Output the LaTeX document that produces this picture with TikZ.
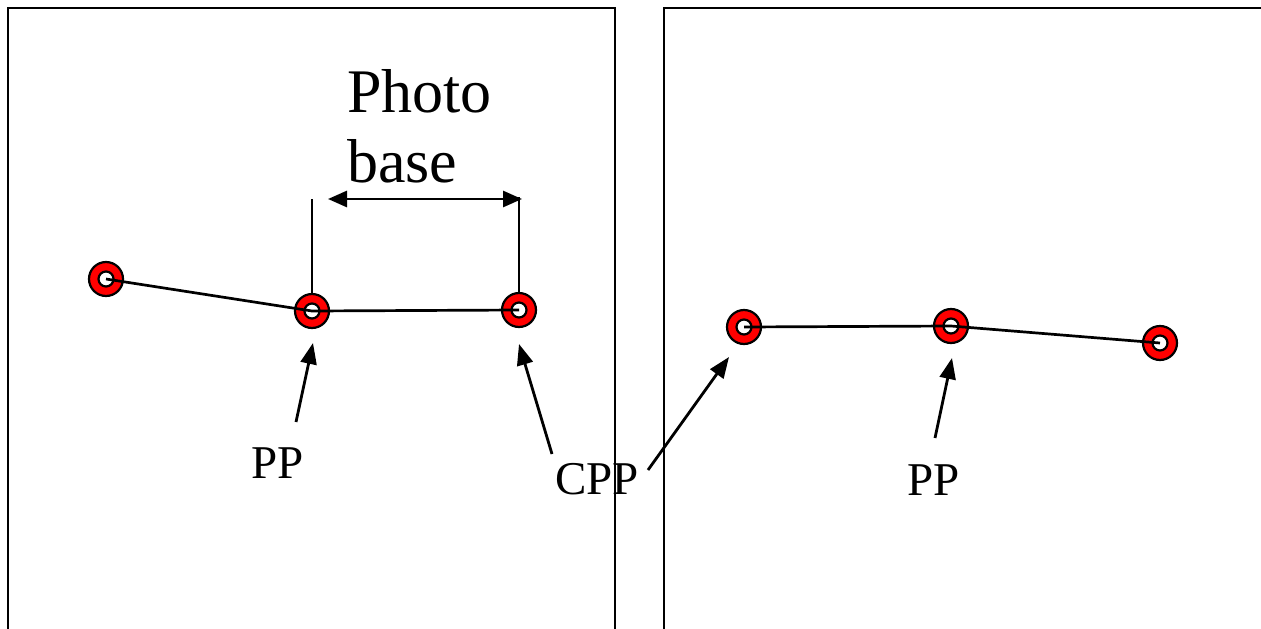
\documentclass[tikz,border=0pt]{standalone}
\usepackage{fontspec}
\setmainfont{Liberation Serif}
\usetikzlibrary{arrows.meta}
\begin{document}
\begin{tikzpicture}[x=1pt,y=-1pt,
  frame/.style={line width=2.4pt},
  ring/.style={circle,draw=black,fill=red,line width=2.2pt,minimum size=34pt,inner sep=0pt},
  hole/.style={circle,draw=black,fill=white,line width=2.2pt,minimum size=15pt,inner sep=0pt},
  link/.style={line width=2.7pt},
  ptr/.style={line width=2.8pt,-{Triangle[length=21pt,width=16pt]}},
  lbl/.style={anchor=base west,inner sep=0pt,font=\fontsize{47}{50}\selectfont},
  big/.style={anchor=base west,inner sep=0pt,align=left,font=\fontsize{62}{70}\selectfont}]
\useasboundingbox (0,0) rectangle (1261,629);
% frames
\draw[frame] (8,640) -- (8,8) -- (615,8) -- (615,640);
\draw[frame] (664,640) -- (664,8) -- (1275,8);
% points
\node[ring] (A) at (106,279) {}; \node[hole] (Ah) at (A) {};
\node[ring] (B) at (312,311) {}; \node[hole] (Bh) at (B) {};
\node[ring] (C) at (519,310) {}; \node[hole] (Ch) at (C) {};
\node[ring] (D) at (744,327) {}; \node[hole] (Dh) at (D) {};
\node[ring] (E) at (951,326) {}; \node[hole] (Eh) at (E) {};
\node[ring] (F) at (1160,343) {}; \node[hole] (Fh) at (F) {};
% flight lines
\draw[link] (A.center) -- (B.center) -- (C.center);
\draw[link] (D.center) -- (E.center) -- (F.center);
% photo base dimension
\coordinate (Btop) at (312,199);
\coordinate (Ctop) at (519,197);
\draw[link] (B.north) -- (Btop);
\draw[link] (C.north) -- (Ctop);
\coordinate (dimL) at (328,199);
\coordinate (dimR) at (522,199);
\draw[line width=2.8pt,{Triangle[length=19pt,width=16pt]}-{Triangle[length=19pt,width=16pt]}] (dimL) -- (dimR);
\node[big] (pb) at (347,182) {Photo\\base};
% labels
\node[lbl] (pp1) at (251,478) {PP};
\node[lbl] (cpp) at (555,494) {CPP};
\node[lbl] (pp2) at (907,495) {PP};
% pointers
\coordinate (t1) at (296,422); \coordinate (h1) at (313,343);
\coordinate (t2) at (552,454); \coordinate (h2) at (519,344);
\coordinate (t3) at (648,470); \coordinate (h3) at (729,357);
\coordinate (t4) at (935,438); \coordinate (h4) at (952,358);
\draw[ptr] (t1) -- (h1);
\draw[ptr] (t2) -- (h2);
\draw[ptr] (t3) -- (h3);
\draw[ptr] (t4) -- (h4);
\end{tikzpicture}
\end{document}
